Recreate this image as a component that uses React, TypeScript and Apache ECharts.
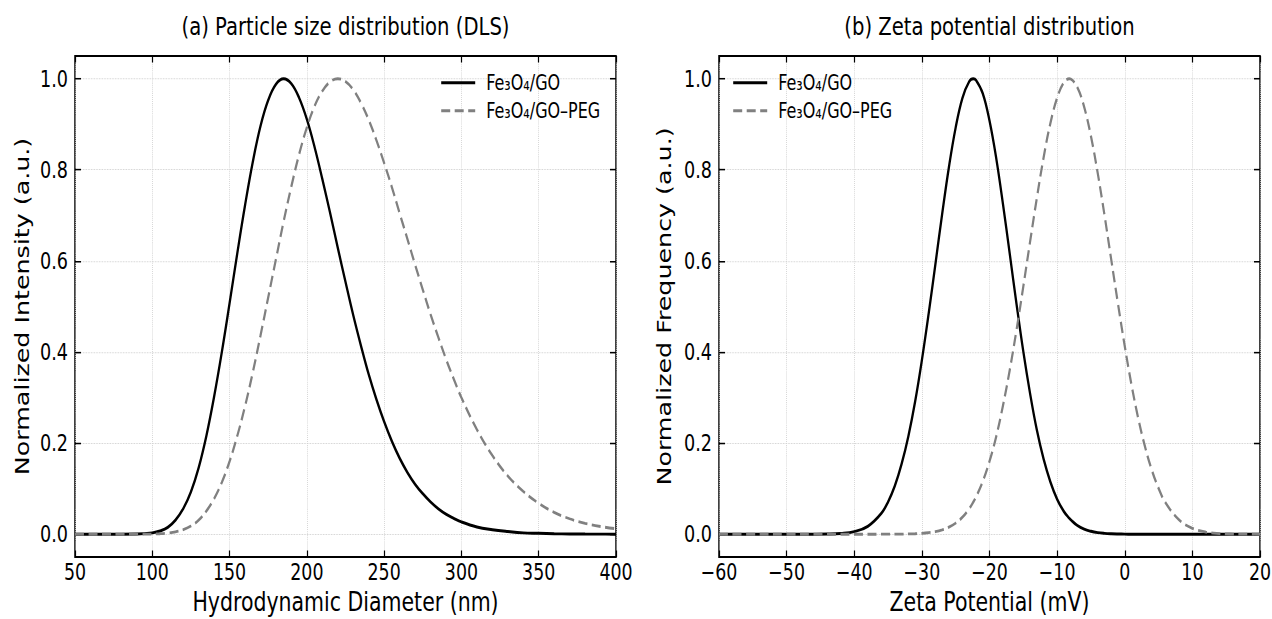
import React, { useEffect, useRef } from "react";
import * as echarts from "echarts";

// ---------- data ----------
const dlsDiameter = [50, 60, 70, 80, 90, 100, 105, 110, 115, 120, 125, 130, 135, 140, 145, 150, 155, 160, 165, 170, 175, 180, 185, 190, 195, 200, 205, 210, 215, 220, 225, 230, 235, 240, 245, 250, 255, 260, 265, 270, 275, 280, 285, 290, 295, 300, 310, 320, 330, 340, 350, 360, 370, 380, 390, 400];
const dlsGO = [0, 0, 0, 0, 0.0003, 0.003, 0.007, 0.015, 0.031, 0.056, 0.093, 0.146, 0.216, 0.302, 0.4, 0.507, 0.617, 0.722, 0.817, 0.896, 0.953, 0.988, 1.0, 0.989, 0.958, 0.911, 0.85, 0.78, 0.706, 0.629, 0.554, 0.481, 0.414, 0.351, 0.296, 0.247, 0.204, 0.167, 0.136, 0.11, 0.089, 0.071, 0.056, 0.044, 0.035, 0.027, 0.016, 0.01, 0.006, 0.003, 0.002, 0.001, 0.0006, 0.0003, 0.0002, 0.0001];
const dlsGOPEG = [0, 0, 0, 0, 0.00005, 0.0004, 0.0011, 0.0025, 0.005, 0.01, 0.018, 0.031, 0.051, 0.078, 0.114, 0.16, 0.216, 0.281, 0.355, 0.436, 0.52, 0.604, 0.687, 0.764, 0.834, 0.893, 0.94, 0.973, 0.993, 1.0, 0.994, 0.976, 0.947, 0.91, 0.865, 0.815, 0.762, 0.705, 0.649, 0.592, 0.537, 0.483, 0.433, 0.385, 0.341, 0.3, 0.23, 0.173, 0.128, 0.094, 0.068, 0.048, 0.034, 0.024, 0.017, 0.012];

const zetaPotential = [-60, -55, -50, -46, -44, -42, -40, -38, -36, -35, -34, -33, -32, -31, -30, -29, -28, -27, -26, -25, -24, -23, -22.4, -22, -21, -20, -19, -18, -17, -16, -15, -14, -13, -12, -11, -10, -9, -8.2, -8, -7, -6, -5, -4, -3, -2, -1, 0, 1, 2, 3, 4, 5, 6, 8, 10, 12, 14, 16, 18, 20];
const zetaGO = [0, 0, 0, 0.0001, 0.0004, 0.0017, 0.0057, 0.0173, 0.0458, 0.0709, 0.106, 0.154, 0.215, 0.291, 0.382, 0.484, 0.593, 0.703, 0.806, 0.893, 0.958, 0.994, 1.0, 0.997, 0.968, 0.908, 0.825, 0.724, 0.615, 0.505, 0.401, 0.309, 0.229, 0.165, 0.115, 0.077, 0.05, 0.035, 0.032, 0.019, 0.011, 0.0064, 0.0035, 0.0019, 0.001, 0.0005, 0.0002, 0.0001, 0, 0, 0, 0, 0, 0, 0, 0, 0, 0, 0, 0];
const zetaGOPEG = [0, 0, 0, 0, 0, 0, 0, 0, 0.00004, 0.00008, 0.00016, 0.0003, 0.0006, 0.0011, 0.0019, 0.0034, 0.0057, 0.0096, 0.0155, 0.0244, 0.0374, 0.056, 0.0704, 0.0816, 0.116, 0.16, 0.215, 0.283, 0.361, 0.449, 0.544, 0.642, 0.738, 0.827, 0.902, 0.958, 0.992, 1.0, 0.9995, 0.981, 0.938, 0.874, 0.793, 0.701, 0.603, 0.506, 0.413, 0.328, 0.254, 0.192, 0.141, 0.101, 0.07, 0.032, 0.013, 0.0047, 0.0015, 0.0004, 0.0001, 0];

const seriesNames = ["Fe₃O₄/GO", "Fe₃O₄/GO–PEG"];
const yTicks = [0, 0.2, 0.4, 0.6, 0.8, 1.0];
const titles = ["(a) Particle size distribution (DLS)", "(b) Zeta potential distribution"];
const xNames = ["Hydrodynamic Diameter (nm)", "Zeta Potential (mV)"];
const yNames = ["Normalized Intensity (a.u.)", "Normalized Frequency (a.u.)"];

// ---------- layout / style ----------
// The reference figure is stretched vertically; the chart is drawn in a
// shorter box and scaled along y by STRETCH.
const STRETCH = 1.28;
const W = 1272;
const H = 619 / STRETCH;
const sy = (v: number) => v / STRETCH;

const FONT = "DejaVu Sans";
const GRIDS = [
  { left: 75, top: sy(56), width: 541, height: sy(557) - sy(56) },
  { left: 719, top: sy(56), width: 541, height: sy(557) - sy(56) },
];
const X_RANGES = [
  { min: 50, max: 400, interval: 50 },
  { min: -60, max: 20, interval: 10 },
];

const fmtMinus = (v: number) => String(v).replace("-", "\u2212");

function buildOption() {
  const splitLine = { show: true, lineStyle: { color: "#cfcfcf", width: 0.8, type: "dotted" } };
  const xTick = { show: true, inside: true, length: sy(6.5), lineStyle: { color: "#000", width: 1.2 } };
  const yTick = { show: true, inside: true, length: 6, lineStyle: { color: "#000", width: 1.2 } };
  const xAxis: any[] = [];
  const yAxis: any[] = [];
  [0, 1].forEach((g) => {
    xAxis.push({
      type: "value",
      gridIndex: g,
      ...X_RANGES[g],
      position: "bottom",
      name: xNames[g],
      nameLocation: "middle",
      nameGap: 24.8,
      nameMoveOverlap: false,
      nameTextStyle: { fontFamily: FONT, fontSize: 20.5, lineHeight: 20.5, color: "#000" },
      axisLine: { show: false, onZero: false },
      axisTick: xTick,
      axisLabel: { fontFamily: FONT, fontSize: 17.4, color: "#000", margin: 3, formatter: fmtMinus },
      splitLine,
    });
    xAxis.push({
      type: "value",
      gridIndex: g,
      ...X_RANGES[g],
      position: "top",
      axisLine: { show: false, onZero: false },
      axisTick: xTick,
      axisLabel: { show: false },
      splitLine: { show: false },
    });
    yAxis.push({
      type: "value",
      gridIndex: g,
      min: -0.05,
      max: 1.05,
      position: "left",
      name: yNames[g],
      nameLocation: "middle",
      nameGap: g === 0 ? 43 : 45,
      nameMoveOverlap: false,
      nameTextStyle: { fontFamily: FONT, fontSize: 19.8, color: "#000" },
      axisLine: { show: false, onZero: false },
      axisTick: { ...yTick, customValues: yTicks },
      axisLabel: {
        fontFamily: FONT,
        fontSize: 17.6,
        color: "#000",
        margin: 7,
        customValues: yTicks,
        formatter: (v: number) => v.toFixed(1),
      },
      splitLine,
    });
    yAxis.push({
      type: "value",
      gridIndex: g,
      min: -0.05,
      max: 1.05,
      position: "right",
      axisLine: { show: false, onZero: false },
      axisTick: { ...yTick, customValues: yTicks },
      axisLabel: { show: false, customValues: yTicks },
      splitLine: { show: false },
    });
  });

  const mk = (name: string, xs: number[], ys: number[], g: number, dashed: boolean) => ({
    type: "line",
    name,
    xAxisIndex: g * 2,
    yAxisIndex: g * 2,
    data: xs.map((x, i) => [x, ys[i]]),
    symbol: "none",
    showSymbol: false,
    smooth: 0.4,
    z: 3,
    lineStyle: dashed
      ? { color: "#808080", width: 2.2, type: [9, 4.5] }
      : { color: "#000000", width: 2.3, type: "solid" },
    itemStyle: { color: dashed ? "#808080" : "#000000" },
  });

  const legendBase = {
    data: seriesNames,
    orient: "vertical",
    top: sy(82.7) - 9,
    padding: 0,
    itemWidth: 34,
    itemHeight: 14,
    itemGap: sy(28) - 18,
    itemStyle: { opacity: 0 },
    lineStyle: { width: 2.4 },
    textStyle: { fontFamily: FONT, fontSize: 16, color: "#000", lineHeight: 18, padding: [0, 0, 0, 6] },
  };

  return {
    animation: false,
    backgroundColor: "#ffffff",
    grid: GRIDS.map((g) => ({
      ...g,
      containLabel: false,
      outerBoundsMode: "none",
      show: true,
      borderColor: "#000",
      borderWidth: 1.5,
      backgroundColor: "transparent",
    })),
    xAxis,
    yAxis,
    legend: [
      { ...legendBase, left: 440 },
      { ...legendBase, left: 732 },
    ],
    graphic: titles.map((t, i) => ({
      type: "text",
      x: GRIDS[i].left + GRIDS[i].width / 2,
      y: sy(26),
      style: { text: t, fontFamily: FONT, fontSize: 19.6, fill: "#000", align: "center", verticalAlign: "middle" },
    })),
    series: [
      mk(seriesNames[0], dlsDiameter, dlsGO, 0, false),
      mk(seriesNames[1], dlsDiameter, dlsGOPEG, 0, true),
      mk(seriesNames[0], zetaPotential, zetaGO, 1, false),
      mk(seriesNames[1], zetaPotential, zetaGOPEG, 1, true),
    ],
  };
}

export default function App() {
  const ref = useRef<HTMLDivElement>(null);
  useEffect(() => {
    if (!ref.current) return;
    const chart = echarts.init(ref.current, null, { renderer: "svg" });
    chart.setOption(buildOption() as any);
    return () => chart.dispose();
  }, []);
  return (
    <div
      ref={ref}
      style={{
        width: W,
        height: H,
        position: "absolute",
        left: 0,
        top: 0,
        transform: `scaleY(${STRETCH})`,
        transformOrigin: "0 0",
      }}
    />
  );
}
